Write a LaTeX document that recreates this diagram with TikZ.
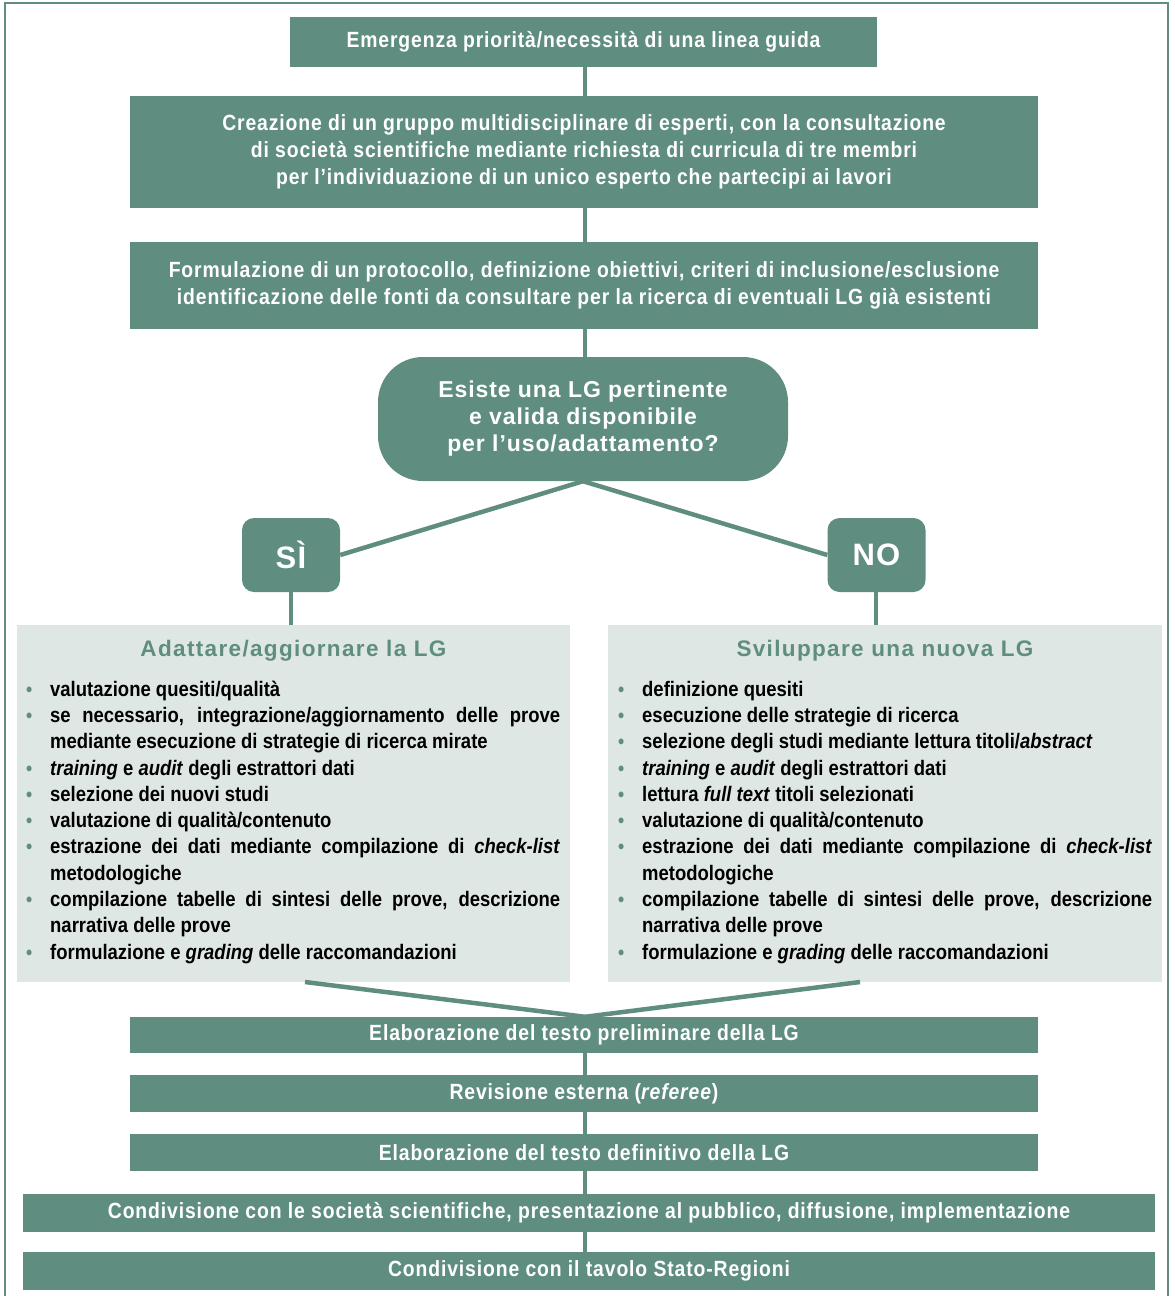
\documentclass[tikz,border=0pt]{standalone}
\usepackage{fontspec}
\setmainfont{Liberation Sans}[FakeStretch=0.88]
\newfontfamily\boxfont{Liberation Sans}[FakeStretch=0.88,LetterSpace=4]
\newfontfamily\widefont{Liberation Sans}[LetterSpace=4]
\newfontfamily\headfont{Liberation Sans}[LetterSpace=6]
\definecolor{lgteal}{HTML}{5F8E80}
\definecolor{lgpanel}{HTML}{DFE7E4}
\newcommand{\bitem}[1]{\par\noindent\hangindent=28pt\hangafter=1\strut\makebox[28pt][l]{\hspace{4pt}\textcolor{lgteal}{\fontsize{20}{20}\selectfont •}}#1}
\tikzset{
  box/.style={fill=lgteal, text=white, align=center, inner sep=0,
    font=\boxfont\bfseries\fontsize{22}{27}\selectfont},
  conn/.style={draw=lgteal, line width=4.5pt},
  panel/.style={fill=lgpanel, inner sep=0},
  phead/.style={text=lgteal, font=\headfont\bfseries\fontsize{22.5}{25}\selectfont, inner sep=0},
  listnode/.style={anchor=north west, text width=538pt, inner sep=0, align=justify,
    font=\bfseries\fontsize{21}{26.3}\selectfont},
  choice/.style={fill=lgteal, text=white, rounded corners=12pt, inner sep=0,
    minimum width=98pt, minimum height=74pt, font=\widefont\bfseries\fontsize{31}{31}\selectfont}
}
\begin{document}
\begin{tikzpicture}[x=1pt,y=-1pt]
\useasboundingbox (0,0) rectangle (1175,1296);
% frame
\draw[lgteal, line width=2pt] (5,1300) -- (5,3) -- (1168,3) -- (1168,1300);

\node[box, minimum width=587pt, minimum height=50pt] (b1) at (583.5,42) {Emergenza priorità/necessità di una linea guida};
\node[box, minimum width=908pt, minimum height=112pt] (b2) at (584,152) {Creazione di un gruppo multidisciplinare di esperti, con la consultazione\\di società scientifiche mediante richiesta di curricula di tre membri\\per l’individuazione di un unico esperto che partecipi ai lavori};
\node[box, minimum width=908pt, minimum height=87pt] (b3) at (584,285.5) {Formulazione di un protocollo, definizione obiettivi, criteri di inclusione/esclusione\\identificazione delle fonti da consultare per la ricerca di eventuali LG già esistenti};
\node[box, rounded corners=45pt, minimum width=410pt, minimum height=124pt,
  font=\widefont\bfseries\fontsize{23}{27}\selectfont] (dec) at (583,419) {Esiste una LG pertinente\\e valida disponibile\\per l’uso/adattamento?};

\draw[conn] (b1.south -| 585,0) -- (b2.north -| 585,0);
\draw[conn] (b2.south -| 585,0) -- (b3.north -| 585,0);
\draw[conn] (b3.south -| 585,0) -- (dec.north -| 585,0);

\node[choice] (si) at (291,555) {SÌ};
\node[choice] (no) at (876.5,555) {NO};
\draw[conn] (dec.south) -- (si.east);
\draw[conn] (dec.south) -- (no.west);

\node[panel, minimum width=553pt, minimum height=357pt] (pL) at (293.5,803.5) {};
\node[panel, minimum width=554pt, minimum height=357pt] (pR) at (885,803.5) {};
\draw[conn] (si.south -| 291,0) -- (pL.north -| 291,0);
\draw[conn] (no.south -| 876,0) -- (pR.north -| 876,0);

\node[phead] (hL) at (293.5,651) {Adattare/aggiornare la LG};
\node[phead] (hR) at (885,651) {Sviluppare una nuova LG};

\node[listnode] (lL) at (22,669.6) {\hyphenpenalty=10000\exhyphenpenalty=10000
\bitem{valutazione quesiti/qualità}
\bitem{se necessario, integrazione/aggiornamento delle prove\linebreak mediante esecuzione di strategie di ricerca mirate}
\bitem{\textit{training} e \textit{audit} degli estrattori dati}
\bitem{selezione dei nuovi studi}
\bitem{valutazione di qualità/contenuto}
\bitem{estrazione dei dati mediante compilazione di \textit{check-list}\linebreak metodologiche}
\bitem{compilazione tabelle di sintesi delle prove, descrizione\linebreak narrativa delle prove}
\bitem{formulazione e \textit{grading} delle raccomandazioni}};

\node[listnode] (lR) at (614,669.6) {\hyphenpenalty=10000\exhyphenpenalty=10000
\bitem{definizione quesiti}
\bitem{esecuzione delle strategie di ricerca}
\bitem{selezione degli studi mediante lettura titoli/\textit{abstract}}
\bitem{\textit{training} e \textit{audit} degli estrattori dati}
\bitem{lettura \textit{full text} titoli selezionati}
\bitem{valutazione di qualità/contenuto}
\bitem{estrazione dei dati mediante compilazione di \textit{check-list}\linebreak metodologiche}
\bitem{compilazione tabelle di sintesi delle prove, descrizione\linebreak narrativa delle prove}
\bitem{formulazione e \textit{grading} delle raccomandazioni}};

\node[box, minimum width=908pt, minimum height=36pt] (e1) at (584,1035) {Elaborazione del testo preliminare della LG};
\node[box, minimum width=908pt, minimum height=37pt] (e2) at (584,1093.5) {Revisione esterna (\textit{referee})};
\node[box, minimum width=908pt, minimum height=37pt] (e3) at (584,1152.5) {Elaborazione del testo definitivo della LG};
\node[box, minimum width=1132pt, minimum height=38pt] (e4) at (589,1213) {Condivisione con le società scientifiche, presentazione al pubblico, diffusione, implementazione};
\node[box, minimum width=1132pt, minimum height=38pt] (e5) at (589,1271) {Condivisione con il tavolo Stato-Regioni};

\coordinate (lo) at (305,982);
\coordinate (ro) at (860,982);
\draw[conn] (lo) -- (e1.north -| 585,0);
\draw[conn] (ro) -- (e1.north -| 585,0);
\draw[conn] (e1.south -| 585,0) -- (e2.north -| 585,0);
\draw[conn] (e2.south -| 585,0) -- (e3.north -| 585,0);
\draw[conn] (e3.south -| 585,0) -- (e4.north -| 585,0);
\draw[conn] (e4.south -| 585,0) -- (e5.north -| 585,0);
\end{tikzpicture}
\end{document}
